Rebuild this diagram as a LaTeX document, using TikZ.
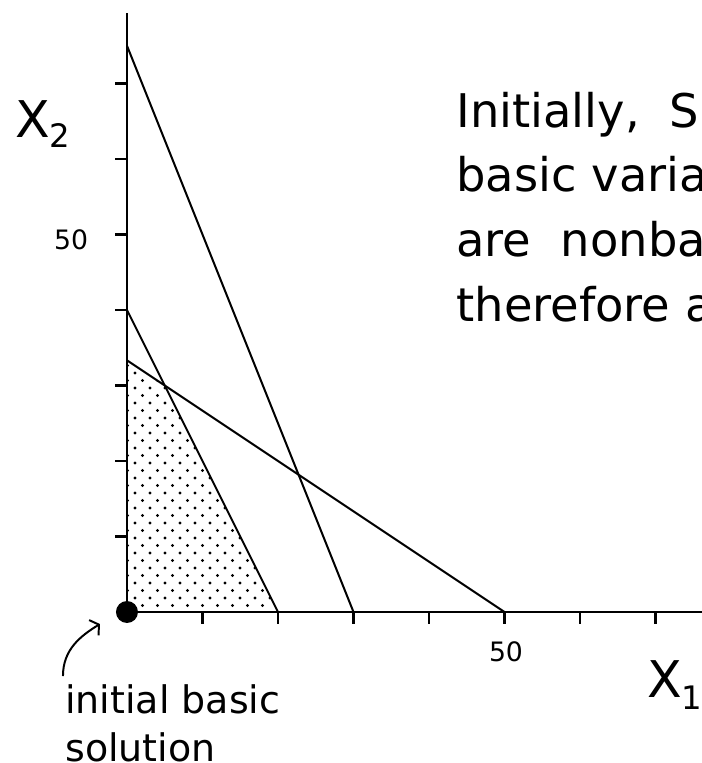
\documentclass[tikz,border=0pt]{standalone}
\usepackage{fontspec}
\setmainfont{DejaVu Sans}
\usetikzlibrary{arrows.meta}
\usetikzlibrary{patterns}
\pgfdeclarepatternformonly{macdots}{\pgfqpoint{-1.2pt}{-1.2pt}}{\pgfqpoint{6.6pt}{6.6pt}}{\pgfqpoint{10.67pt}{10.67pt}}{%
  \pgfpathcircle{\pgfqpoint{0pt}{0pt}}{1.2pt}%
  \pgfpathcircle{\pgfqpoint{5.335pt}{5.335pt}}{1.2pt}%
  \pgfusepath{fill}}
\tikzstyle{axis} = [line width=1.5pt]
\tikzstyle{bound} = [line width=1.4pt]
\tikzstyle{lbl} = [inner sep=0pt]

\begin{document}
\begin{tikzpicture}[x=1.8875mm,y=1.8875mm]
		\useasboundingbox (-16.82,-20.0) rectangle (76.16,81.06);
		\coordinate (o) at (0,0);
		\coordinate (a1) at (0,40);
		\coordinate (b1) at (20,0);
		\coordinate (a2) at (0,{100/3});
		\coordinate (b2) at (50,0);
		\coordinate (a3) at (0,75);
		\coordinate (b3) at (30,0);
		\coordinate (c12) at (5,30);
		% feasible region
		\fill[pattern=macdots] (o) -- (b1) -- (c12) -- (a2) -- cycle;
		\foreach \from/\to in {a1/b1,a2/b2,a3/b3}
		\draw[bound] (\from) -- (\to);
		\draw[axis] (o) -- (0,79.3);
		\draw[axis] (o) -- (77,0);
		\foreach \t in {10,20,...,70}
		{\draw[axis] (\t,0) -- (\t,-1.6);
		 \draw[axis] (0,\t) -- (-1.6,\t);}
		\fill (o) circle[radius=2.75mm];
		\node[lbl] (ytick) at (-7.4,49.3) {\fontsize{19}{19}\selectfont 50};
		\node[lbl] (xtick) at (50.2,-5.3) {\fontsize{19}{19}\selectfont 50};
		\node[lbl, anchor=base west] (xtwo) at (-14.83,62.9) {\fontsize{36}{36}\selectfont X\lower2.5mm\hbox{\fontsize{23}{23}\selectfont 2}};
		\node[lbl, anchor=base west] (xone) at (68.87,-11.26) {\fontsize{36}{36}\selectfont X\lower3.2mm\hbox{\fontsize{23}{23}\selectfont 1}};
		\node[lbl, anchor=base west, align=left, font=\fontsize{33}{46}\selectfont] (note) at (43.6,38.54) {Initially,\ \ S\\basic varia\\are\ \ nonbas\\therefore a};
		\node[lbl, anchor=base west, align=left, font=\fontsize{27}{34}\selectfont] (init) at (-8.21,-19.74) {initial basic\\solution};
		\coordinate (tail) at (-8.48,-8.48);
		\coordinate (head) at (-3.58,-1.59);
		\draw[bound, -{Straight Barb[length=1.5mm,width=4.5mm]}] (tail) .. controls (-8.48,-5.0) and (-6.2,-3.2) .. (head);
	\end{tikzpicture}
\end{document}
